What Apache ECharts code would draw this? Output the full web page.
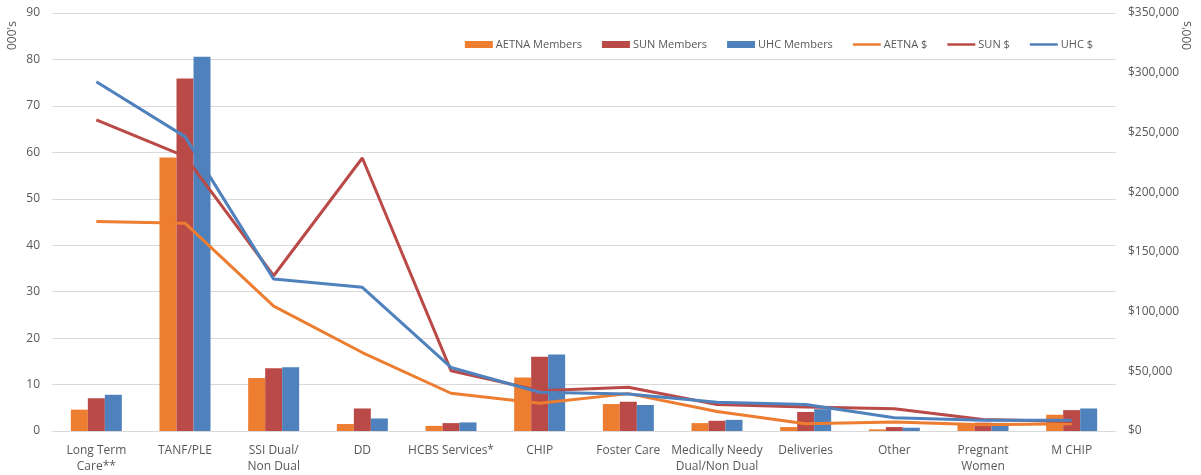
<!DOCTYPE html>
<html>
<head>
<meta charset="utf-8">
<script src="https://cdn.jsdelivr.net/npm/echarts@6/dist/echarts.min.js"></script>
<style>
html,body{margin:0;padding:0;background:#fff;}
#c{width:1201px;height:475px;}
</style>
</head>
<body>
<div id="c"></div>
<script>
var categories = ["Long Term\nCare**", "TANF/PLE", "SSI Dual/\nNon Dual", "DD", "HCBS Services*", "CHIP", "Foster Care", "Medically Needy\nDual/Non Dual", "Deliveries", "Other", "Pregnant\nWomen", "M CHIP"];
var aetnaMembers = [4.6, 58.9, 11.4, 1.5, 1.1, 11.5, 5.8, 1.7, 0.85, 0.35, 1.6, 3.5];
var sunMembers   = [7.05, 75.9, 13.5, 4.85, 1.7, 16.0, 6.3, 2.2, 4.1, 0.85, 1.8, 4.5];
var uhcMembers   = [7.8, 80.6, 13.7, 2.7, 1.85, 16.45, 5.6, 2.4, 4.7, 0.7, 1.75, 4.85];
var aetnaDollars = [175400, 174000, 104500, 65700, 31600, 23300, 31300, 16400, 6100, 7500, 5300, 6100];
var sunDollars   = [260500, 230000, 130000, 228600, 50500, 33800, 36600, 22200, 20000, 18600, 9700, 8000];
var uhcDollars   = [292400, 246500, 127200, 120300, 53200, 32400, 31000, 24100, 22200, 11100, 8900, 8900];
var leftTicks = {min: 0, max: 90, interval: 10};
var rightTicks = {min: 0, max: 350000, interval: 50000};

var C_OR = '#ED7D31', C_RD = '#BA4A47', C_BL = '#4F81BD';
var txt = '#595959';
var font = 'Open Sans';
var lineIcon = 'path://M0,0L0.01,0L0.01,0.01Z M0,2.2L28,2.2L28,4.8L0,4.8Z M0,7L0.01,7L0.01,7.01Z';

var chart = echarts.init(document.getElementById('c'), null, {renderer: 'canvas'});
function barSeries(name, data, color) {
  return {name: name, type: 'bar', yAxisIndex: 0, data: data, barWidth: 17, barGap: '0%',
    itemStyle: {color: color}, z: 2};
}
function lineSeries(name, data, color) {
  return {name: name, type: 'line', yAxisIndex: 1, data: data, symbol: 'none', showSymbol: false,
    lineStyle: {color: color, width: 3}, itemStyle: {color: color}, z: 3};
}
chart.setOption({
  animation: false,
  backgroundColor: '#fff',
  textStyle: {fontFamily: font},
  grid: {left: 52, right: 85, top: 13, bottom: 41, containLabel: false},
  legend: {
    top: 34, right: 103, itemGap: 20, itemWidth: 28, itemHeight: 7,
    textStyle: {color: txt, fontSize: 11, fontFamily: font, padding: [0, 0, 0, -2]},
    data: [
      {name: 'AETNA Members', icon: 'rect'}, {name: 'SUN Members', icon: 'rect'}, {name: 'UHC Members', icon: 'rect'},
      {name: 'AETNA $', icon: lineIcon}, {name: 'SUN $', icon: lineIcon}, {name: 'UHC $', icon: lineIcon}
    ]
  },
  xAxis: {
    type: 'category', data: categories,
    axisLine: {lineStyle: {color: '#D9D9D9', width: 1}},
    axisTick: {show: false},
    axisLabel: {color: txt, fontSize: 12, fontFamily: font, margin: 12, lineHeight: 16, interval: 0}
  },
  yAxis: [
    {type: 'value', min: leftTicks.min, max: leftTicks.max, interval: leftTicks.interval,
      axisLine: {show: false}, axisTick: {show: false},
      axisLabel: {color: txt, fontSize: 12, fontFamily: font, margin: 12},
      splitLine: {lineStyle: {color: '#D9D9D9', width: 1}}},
    {type: 'value', min: rightTicks.min, max: rightTicks.max, interval: rightTicks.interval,
      axisLine: {show: false}, axisTick: {show: false}, splitLine: {show: false},
      axisLabel: {color: txt, fontSize: 12, fontFamily: font, margin: 12,
        formatter: function (v) { return '$' + v.toLocaleString('en-US'); }}}
  ],
  graphic: [
    {type: 'text', x: 7, y: 50, rotation: Math.PI / 2,
      style: {text: "000's", fill: txt, font: '12px "Open Sans"', textAlign: 'left', textVerticalAlign: 'top'}},
    {type: 'text', x: 1182, y: 50, rotation: Math.PI / 2,
      style: {text: "000's", fill: txt, font: '12px "Open Sans"', textAlign: 'left', textVerticalAlign: 'top'}}
  ],
  series: [
    barSeries('AETNA Members', aetnaMembers, C_OR),
    barSeries('SUN Members', sunMembers, C_RD),
    barSeries('UHC Members', uhcMembers, C_BL),
    lineSeries('AETNA $', aetnaDollars, C_OR),
    lineSeries('SUN $', sunDollars, C_RD),
    lineSeries('UHC $', uhcDollars, C_BL)
  ]
});
</script>
</body>
</html>
